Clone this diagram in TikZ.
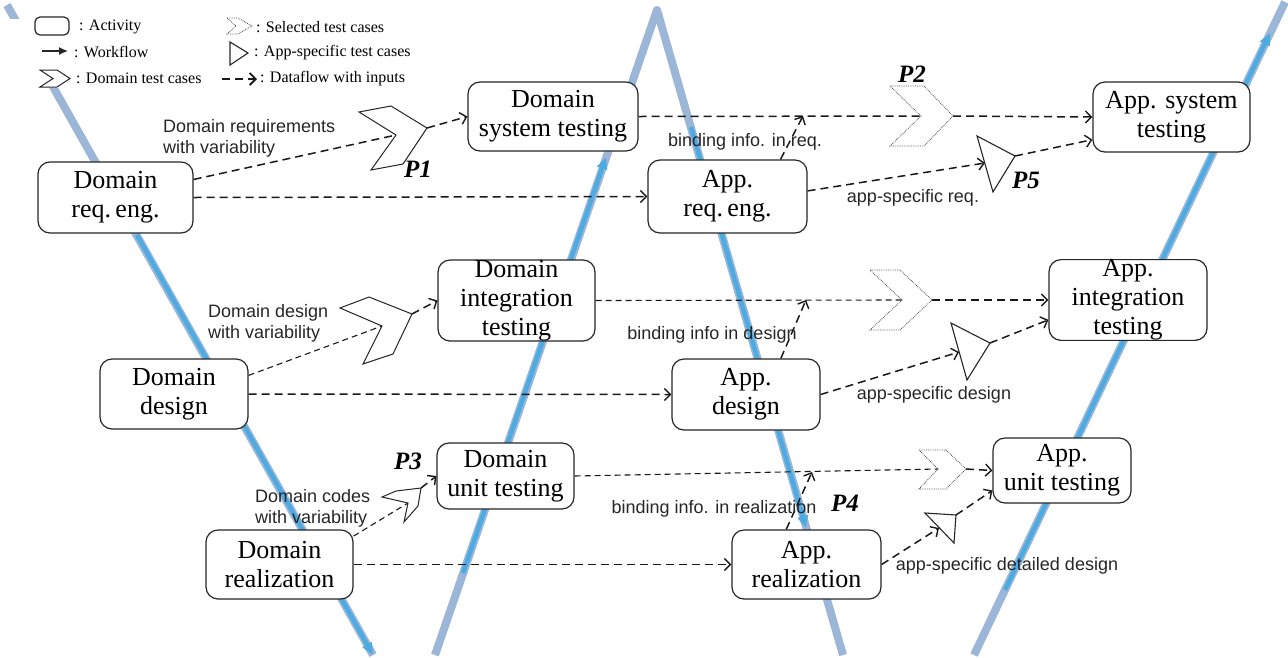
\documentclass[tikz,border=0pt]{standalone}
\usepackage{fontspec}
\setmainfont{Liberation Serif}
\newfontfamily\labelsans{Liberation Sans}
\usetikzlibrary{arrows.meta,calc}

\definecolor{vlight}{RGB}{156,182,216}
\definecolor{vbright}{RGB}{77,171,226}

\tikzset{
  vtrack/.style={vlight, line width=8pt, line cap=butt, line join=round},
  vflow/.style={vbright, line width=4.5pt, -{Triangle[length=12pt,width=10pt]}},
  activity/.style={draw=black!85, line width=1.2pt, rounded corners=12pt, fill=white,
    align=center, inner sep=0pt, font=\fontsize{26}{29}\selectfont},
  dflow/.style={black!90, line width=1.5pt, dash pattern=on 8pt off 5pt},
  dthin/.style={black!90, line width=1.1pt, dash pattern=on 6pt off 4pt},
  barb/.style={-{Straight Barb[length=6pt,width=12pt,line width=1.4pt]}},
  dtc/.style={draw=black!85, line width=1pt, fill=white, line join=miter},
  seltc/.style={draw=black!70, line width=0.8pt, densely dotted},
  apptc/.style={draw=black!85, line width=1.1pt, fill=white, line join=miter},
  lbl/.style={font=\labelsans\fontsize{18}{21}\selectfont, text=black!85, inner sep=0pt},
  plbl/.style={font=\fontsize{25}{25}\selectfont\bfseries\itshape, inner sep=0pt},
  leg/.style={font=\fontsize{16}{18}\selectfont, anchor=west, inner sep=0pt},
}

\begin{document}
\begin{tikzpicture}[x=1pt,y=-1pt]
\useasboundingbox (0,0) rectangle (1288,657);

% ---- V-model tracks ----
\coordinate (t1a) at (7,5);     \coordinate (t1b) at (373,655);
\coordinate (t2a) at (435,655); \coordinate (peak) at (657,10); \coordinate (t3b) at (843,655);
\coordinate (t4a) at (974,655); \coordinate (t4b) at (1285,2);
\draw[vtrack] (t1a) -- (t1b);
\draw[vtrack] (t2a) -- (peak) -- (t3b);
\draw[vtrack] (t4a) -- (t4b);

% workflow directions along the tracks
\coordinate (w1a) at (137,235);  \coordinate (w1b) at (373,655);
\coordinate (w2a) at (463,573);  \coordinate (w2b) at (606,157);
\coordinate (w3a) at (691,127);  \coordinate (w3b) at (806,528);
\coordinate (w4a) at (1005,590); \coordinate (w4b) at (1270,33);
\draw[vflow] (w1a) -- (w1b);
\draw[vflow] (w2a) -- (w2b);
\draw[vflow] (w3a) -- (w3b);
\draw[vflow] (w4a) -- (w4b);

% ---- legend ----
\coordinate (lg0) at (0,19); \coordinate (lg1) at (430,88);
\fill[white] (lg0) rectangle (lg1);
\node[draw=black!85, line width=1.2pt, rounded corners=5pt, minimum width=34pt,
      minimum height=18pt, inner sep=0pt] (legact) at (52,26) {};
\node[leg] (legacttxt) at (79,27) {: Activity};
\coordinate (legwfa) at (42,51); \coordinate (legwfb) at (68,51);
\draw[black!85, line width=1.3pt, -{Latex[length=9pt,width=8pt]}] (legwfa) -- (legwfb);
\node[leg] (legwftxt) at (74,52) {: Workflow};
\draw[dtc] (40,70) -- (57,70) -- (70,78.5) -- (57,87) -- (40,87) -- (53,78.5) -- cycle;
\node[leg] (legdtc) at (76,78) {: Domain test cases};
\draw[seltc] (227,18) -- (238,18) -- (252,26) -- (238,34) -- (227,34) -- (236,26) -- cycle;
\node[leg] (legsel) at (256,27) {: Selected test cases};
\draw[apptc] (230,42) -- (248,53) -- (230,65) -- cycle;
\node[leg] (legapp) at (254,53) {: App-specific test cases};
\coordinate (legdfa) at (222,79); \coordinate (legdfb) at (257,79);
\draw[dflow, -{Straight Barb[length=6pt,width=12pt,line width=1.8pt]}] (legdfa) -- (legdfb);
\node[leg] (legdf) at (260,79) {: Dataflow with inputs};

% ---- activities ----
\node[activity, minimum width=155pt, minimum height=71pt] (dreq)  at (115.5,197.5) {Domain\\req.\,eng.};
\node[activity, minimum width=170pt, minimum height=69pt] (dsys)  at (553,116.5)   {Domain\\system testing};
\node[activity, minimum width=159pt, minimum height=73pt] (areq)  at (727.5,196.5) {App.\\req.\,eng.};
\node[activity, minimum width=157pt, minimum height=70pt] (asys)  at (1171.5,117)  {App. system\\testing};
\node[activity, minimum width=157pt, minimum height=81pt] (dint)  at (516.5,300.5) {Domain\\integration\\testing};
\node[activity, minimum width=158pt, minimum height=80pt] (aint)  at (1128,300)    {App.\\integration\\testing};
\node[activity, minimum width=148pt, minimum height=70pt] (ddes)  at (174,394)     {Domain\\design};
\node[activity, minimum width=148pt, minimum height=71pt] (ades)  at (746,394.5)   {App.\\design};
\node[activity, minimum width=137pt, minimum height=66pt] (dunit) at (505.5,476)   {Domain\\unit testing};
\node[activity, minimum width=138pt, minimum height=65pt] (aunit) at (1062,470.5)  {App.\\unit testing};
\node[activity, minimum width=147pt, minimum height=69pt] (dreal) at (279.5,564.5) {Domain\\realization};
\node[activity, minimum width=149pt, minimum height=69pt] (areal) at (806.5,564.5) {App.\\realization};

% ---- test case shapes: anchor points ----
\coordinate (c1tip) at (427,128);   \coordinate (c1notch) at (396,135);
\coordinate (c2tip) at (953,116);   \coordinate (c2notch) at (921,116);
\coordinate (c3tip) at (412,314);   \coordinate (c3notch) at (382,326);
\coordinate (c4tip) at (932,300);   \coordinate (c4notch) at (902,300);
\coordinate (c5tip) at (421,488);   \coordinate (c5notch) at (408,503);
\coordinate (c6tip) at (966,469);   \coordinate (c6notch) at (938,469);
\coordinate (p5in) at (985,163);    \coordinate (p5out) at (1015,156);
\coordinate (desin) at (959,352);   \coordinate (desout) at (990,343);
\coordinate (p4in) at (939,528);    \coordinate (p4out) at (956,515);
\coordinate (breq) at (803,116);
\coordinate (bdes) at (806,300);
\coordinate (breal) at (812,472);

% ---- dataflows: requirements level ----
\draw[dflow] (dreq.13) -- (c1notch);
\draw[dflow,barb] (c1tip) -- (dsys.west);
\draw[dflow,barb] (dreq.east) -- (areq.west);
\draw[dflow] (dsys.east) -- (c2notch);
\draw[dflow,barb] (c2tip) -- (asys.west);
\draw[dflow,barb] (areq.35) -- (breq);
\draw[dflow,barb] (areq.4) -- (p5in);
\draw[dflow,barb] (p5out) -- (asys.196);

% ---- dataflows: design level ----
\draw[dthin] (ddes.14) -- (c3notch);
\draw[dflow,barb] (c3tip) -- (dint.west);
\draw[dflow,barb] (ddes.east) -- (ades.west);
\draw[dthin] (dint.east) -- (c4notch);
\draw[dflow,barb] (c4tip) -- (aint.west);
\draw[dflow,barb] (ades.46) -- (bdes);
\draw[dflow,barb] (ades.east) -- (desin);
\draw[dflow,barb] (desout) -- (aint.194);

% ---- dataflows: realization level ----
\draw[dthin] (dreal.21) -- (c5notch);
\draw[dflow,barb] (c5tip) -- (dunit.west);
\draw[dflow,barb] (dreal.east) -- (areal.west);
\draw[dthin] (dunit.east) -- (c6notch);
\draw[dflow,barb] (c6tip) -- (aunit.west);
\draw[dflow,barb] (areal.120) -- (breal);
\draw[dflow,barb] (areal.east) -- (p4in);
\draw[dflow,barb] (p4out) -- (aunit.196);

% ---- domain test cases ----
\draw[dtc] (359,112) -- (391,106) -- (c1tip) -- (403,164) -- (371,170) -- (c1notch) -- cycle;
\draw[dtc] (340,308) -- (369,297) -- (c3tip) -- (393,354) -- (363,364) -- (c3notch) -- cycle;
\draw[dtc] (382,497) -- (396,491) -- (c5tip) -- (418,506) -- (404,522) -- (c5notch) -- cycle;

% ---- selected test cases ----
\draw[seltc] (890,86) -- (924,86) -- (c2tip) -- (924,146) -- (890,146) -- (c2notch) -- cycle;
\draw[seltc] (870,270) -- (900,270) -- (c4tip) -- (900,330) -- (870,330) -- (c4notch) -- cycle;
\draw[seltc] (919,450) -- (946,450) -- (c6tip) -- (946,489) -- (919,489) -- (c6notch) -- cycle;

% ---- app-specific test cases ----
\draw[apptc] (977,136) -- (p5out) -- (993,192) -- cycle;
\draw[apptc] (951,323) -- (desout) -- (967,380) -- cycle;
\draw[apptc] (925,513) -- (p4out) -- (954,543) -- cycle;

% ---- labels ----
\node[lbl, align=left, anchor=west] (lreq)  at (163,138) {Domain requirements\\with variability};
\node[lbl, align=left, anchor=west] (ldes)  at (208,323) {Domain design\\with variability};
\node[lbl, align=left, anchor=west] (lcode) at (255,508) {Domain codes\\with variability};
\node[lbl] (lbreq)  at (745,142) {binding info. in req.};
\node[lbl] (lareq)  at (913,198) {app-specific req.};
\node[lbl] (lbdes)  at (712,335) {binding info in design};
\node[lbl] (lades)  at (934,395) {app-specific design};
\node[lbl] (lbreal) at (714,509) {binding info. in realization};
\node[lbl] (lareal) at (1007,566) {app-specific detailed design};

\node[plbl] (p1) at (418,169) {P1};
\node[plbl] (p2) at (912,74)  {P2};
\node[plbl] (p3) at (408,461) {P3};
\node[plbl] (p4) at (845,503) {P4};
\node[plbl] (p5) at (1026,180) {P5};
\end{tikzpicture}
\end{document}
